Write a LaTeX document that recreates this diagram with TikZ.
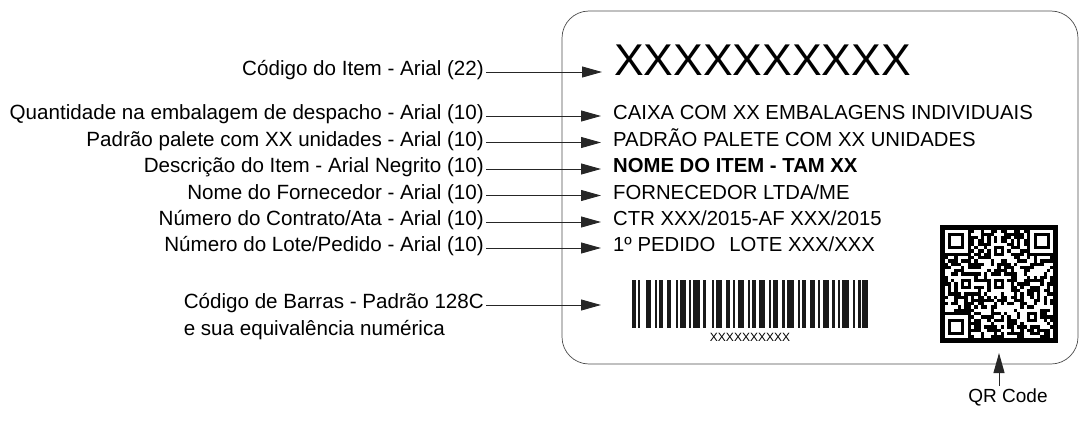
\documentclass[tikz,border=0pt]{standalone}
\usepackage{fontspec}
\setmainfont{Liberation Sans}
\usetikzlibrary{arrows.meta,positioning}

\begin{document}
\begin{tikzpicture}[x=1pt,y=-1pt]
\tikzstyle{etiq} = [anchor=east,inner sep=2pt,text height=0.72em,text depth=0pt,font=\fontsize{20.6}{24}\selectfont] %legendas
\tikzstyle{campo} = [anchor=west,inner sep=2pt,text height=0.72em,text depth=0pt,font=\fontsize{20.3}{24}\selectfont] %textos da etiqueta
\tikzstyle{fleche} = [line width=0.9pt,black!85,-{Triangle[length=20pt,width=11pt]},shorten >=10pt]
\tikzstyle{barra} = [fill=black!90]
\tikzstyle{modulo} = [fill=white]

\useasboundingbox (0,0) rectangle (1079,423);

%contorno da etiqueta
\draw[line width=0.7pt,black!70,rounded corners=27pt] (562,11) rectangle (1078,364);

%legendas
\node[etiq] (lc) at (486,72) {Código do Item - Arial (22)};
\node[etiq] (lq) at (486,116) {Quantidade na embalagem de despacho - Arial (10)};
\node[etiq] (lp) at (486,142.5) {Padrão palete com XX unidades - Arial (10)};
\node[etiq] (ld) at (486,169) {Descrição do Item - Arial Negrito (10)};
\node[etiq] (ln) at (486,195.5) {Nome do Fornecedor - Arial (10)};
\node[etiq] (lct) at (486,222) {Número do Contrato/Ata - Arial (10)};
\node[etiq] (ll) at (486,248) {Número do Lote/Pedido - Arial (10)};
\node[etiq] (lb) at (486,305) {Código de Barras - Padrão 128C};
\node[etiq,anchor=west] (lb2) at ([yshift=-27pt]lb.west) {e sua equivalência numérica};

%textos da etiqueta
\node[campo,font=\fontsize{44.5}{50}\selectfont] (tc) at (612,72) {XXXXXXXXXX};
\node[campo] (tq) at (611,116) {CAIXA COM XX EMBALAGENS INDIVIDUAIS};
\node[campo] (tp) at (611,142.5) {PADRÃO PALETE COM XX UNIDADES};
\node[campo,font=\fontsize{20.3}{24}\selectfont\bfseries] (td) at (611,169) {NOME DO ITEM - TAM XX};
\node[campo] (tn) at (611,195.5) {FORNECEDOR LTDA/ME};
\node[campo] (tct) at (611,222) {CTR XXX/2015-AF XXX/2015};
\node[campo] (tl) at (611,248) {1º PEDIDO\hspace{14pt}LOTE XXX/XXX};
\coordinate (cb) at (611,305);

%setas
\draw[fleche] (lc) -- (tc);
\draw[fleche] (lq) -- (tq);
\draw[fleche] (lp) -- (tp);
\draw[fleche] (ld) -- (td);
\draw[fleche] (ln) -- (tn);
\draw[fleche] (lct) -- (tct);
\draw[fleche] (ll) -- (tl);
\draw[fleche] (lb) -- (cb);

%codigo de barras
\foreach \x/\w in {632/4,638/2,646/5,655/2,659/4,667/4,676/2,680/6,689/2,693/7,703/3,712/2,716/6,726/4,733/2,738/6,748/2,752/4,759/6,769/2,773/5,782/3,787/7,798/2,802/4,810/5,818/2,823/6,832/3,838/2,842/7,853/2,858/3,862/6}
  \fill[barra] (\x,280) rectangle ++(\w,48);
\node[font=\fontsize{12}{14}\selectfont,inner sep=0pt] (nb) at (750,337) {XXXXXXXXXX};

%qr code
\fill[black] (940,225) rectangle (1058,343);
\pgfmathsetseed{12}
\foreach \i in {0,...,32}{
  \foreach \j in {0,...,32}{
    \pgfmathtruncatemacro{\bit}{round(rnd-0.03)}
    \ifnum\bit=1 \fill[modulo] (944.5+\i*3.3,229.5+\j*3.3) rectangle ++(3.3,3.3); \fi
  }}
%padroes de posicao
\foreach \cx/\cy in {944.5/229.5,1030.3/229.5,944.5/315.3}{
  \fill[black] (\cx-3.3,\cy-3.3) rectangle ++(29.7,29.7);
  \fill[modulo] (\cx,\cy) rectangle ++(23.1,23.1);
  \fill[black] (\cx+3.3,\cy+3.3) rectangle ++(16.5,16.5);
  \fill[modulo] (\cx+6.6,\cy+6.6) rectangle ++(9.9,9.9);
}
%padroes de alinhamento
\foreach \ax/\ay in {1023.7/308.7,990.7/275.7,957.7/275.7,990.7/242.7}{
  \fill[modulo] (\ax,\ay) rectangle ++(16.5,16.5);
  \fill[black] (\ax+3.3,\ay+3.3) rectangle ++(9.9,9.9);
  \fill[modulo] (\ax+6.6,\ay+6.6) rectangle ++(3.3,3.3);
}

%legenda do qr code
\node[inner sep=2pt,text height=0.72em,text depth=0pt,font=\fontsize{19}{22}\selectfont] (lqr) at (1008,399) {QR Code};
\coordinate (cqr) at (999,353);
\draw[fleche,shorten >=0pt] ([yshift=7pt]lqr.north -| cqr) -- (cqr);
\end{tikzpicture}
\end{document}
